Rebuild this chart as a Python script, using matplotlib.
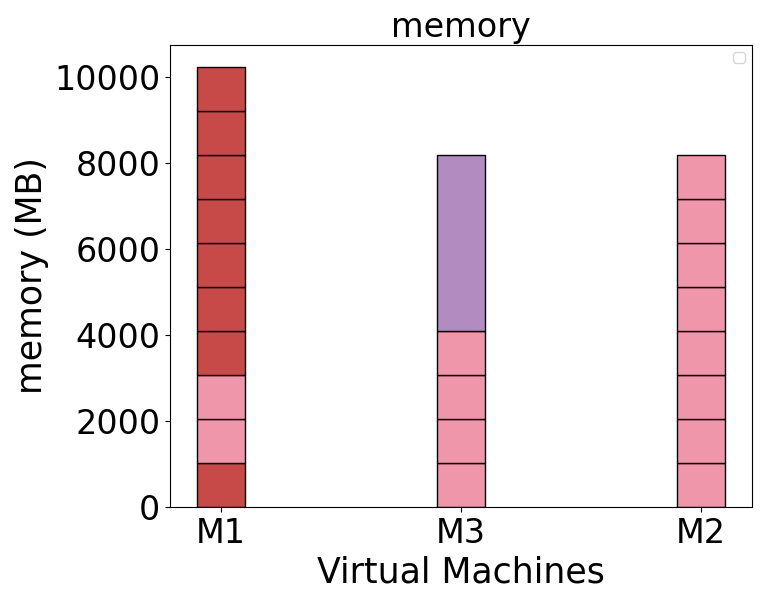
import numpy as np
import matplotlib.pyplot as plt

machines = ["M1", "M3", "M2"]
# each machine: list of (size MB, colour group) stacked from the bottom
m1_sizes = [1024, 1024, 1024, 1024, 1024, 1024, 1024, 1024, 1024, 1024]
m1_groups = ["red", "pink", "pink", "red", "red", "red", "red", "red", "red", "red"]
m3_sizes = [1024, 1024, 1024, 1024, 4096]
m3_groups = ["pink", "pink", "pink", "pink", "purple"]
m2_sizes = [1024, 1024, 1024, 1024, 1024, 1024, 1024, 1024]
m2_groups = ["pink"] * 8

colors = {"red": "#c84a48", "pink": "#f096aa", "purple": "#b28bc0"}

fig, ax = plt.subplots(figsize=(7.63, 6.0), dpi=100)

stacks = [(m1_sizes, m1_groups), (m3_sizes, m3_groups), (m2_sizes, m2_groups)]
for i, (sizes, groups) in enumerate(stacks):
    bottom = 0
    for s, g in zip(sizes, groups):
        ax.bar(i, s, width=0.2, bottom=bottom, color=colors[g], edgecolor="black", linewidth=1)
        bottom += s

ax.set_xticks(range(len(machines)))
ax.set_xticklabels(machines)
ax.tick_params(labelsize=24)
ax.set_xlabel("Virtual Machines", fontsize=25)
ax.set_ylabel("memory (MB)", fontsize=25)
ax.set_title("memory", fontsize=24)
ax.legend(handles=[], loc="upper right")

plt.subplots_adjust(left=0.223, right=0.985, top=0.925, bottom=0.155)
plt.savefig("out.png")
